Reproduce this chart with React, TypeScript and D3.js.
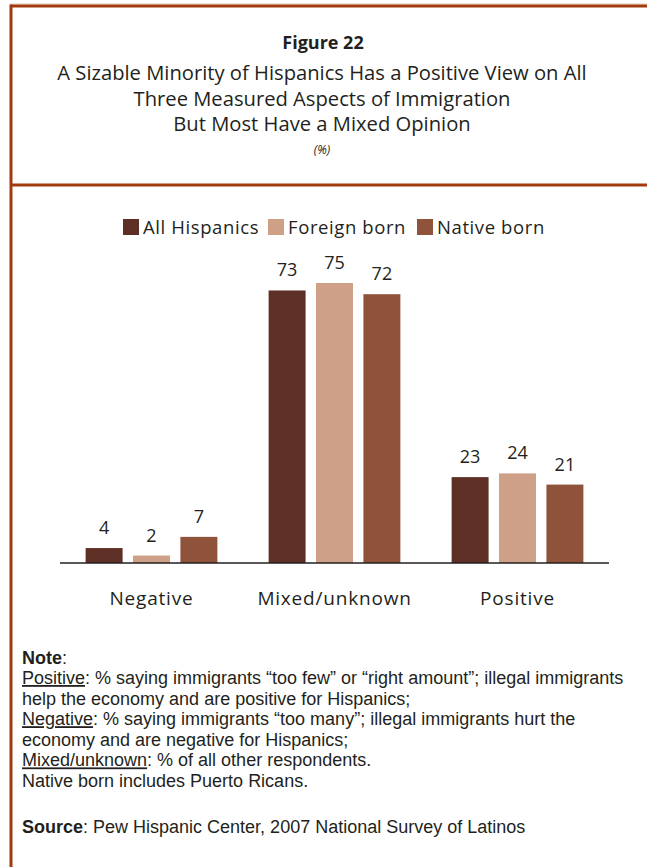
import * as d3 from "d3";
import React from "react";

// chart data
const categories = ["Negative", "Mixed/unknown", "Positive"];
const seriesNames = ["All Hispanics", "Foreign born", "Native born"];
const allHispanics = [4, 73, 23];
const foreignBorn = [2, 75, 24];
const nativeBorn = [7, 72, 21];
const seriesColors = ["#5E2F24", "#CFA088", "#8F523B"];

const titleLines = [
  "A Sizable Minority of Hispanics Has a Positive View on All",
  "Three Measured Aspects of Immigration",
  "But Most Have a Mixed Opinion",
];

const noteLines: { label?: string; text: string }[] = [
  { label: "Positive", text: ": % saying immigrants \u201Ctoo few\u201D or \u201Cright amount\u201D; illegal immigrants" },
  { text: "help the economy and are positive for Hispanics;" },
  { label: "Negative", text: ": % saying immigrants \u201Ctoo many\u201D; illegal immigrants hurt the" },
  { text: "economy and are negative for Hispanics;" },
  { label: "Mixed/unknown", text: ": % of all other respondents." },
  { text: "Native born includes Puerto Ricans." },
];

const FONT = "'Open Sans', Lato, sans-serif";
const NOTE_FONT = "'Liberation Sans', Arial, sans-serif";
const FRAME = "#A33A0E";
const INK = "#231F20";

export default function App(): React.ReactElement {
  const width = 647;
  const height = 867;

  const values = [allHispanics, foreignBorn, nativeBorn];

  const baseline = 563;
  const x0 = d3
    .scaleBand<string>()
    .domain(categories)
    .range([60, 609])
    .paddingInner(0.28)
    .paddingOuter(0.14);

  const x1 = d3
    .scaleBand<string>()
    .domain(seriesNames)
    .range([0, x0.bandwidth()])
    .paddingInner(0.22);

  const y = d3.scaleLinear().domain([0, 75]).range([baseline, 283]);

  const legendX = [123, 268, 417];

  return (
    <div style={{ position: "absolute", left: 0, top: 0 }}>
      <svg width={width} height={height} style={{ display: "block" }} fontFamily={FONT}>
        <rect width={width} height={height} fill="#fff" />

        {/* frame */}
        <line x1={10} x2={width} y1={4} y2={4} stroke="#E8C9B8" strokeWidth={1} />
        <line x1={11} x2={width} y1={6} y2={6} stroke={FRAME} strokeWidth={3} />
        <line x1={11} x2={11} y1={4.5} y2={height} stroke={FRAME} strokeWidth={3} />
        <line x1={11} x2={width} y1={185} y2={185} stroke={FRAME} strokeWidth={3} />

        {/* titles */}
        <text x={323} y={49} textAnchor="middle" fontSize={18} fontWeight={700} fill={INK}>
          Figure 22
        </text>
        {titleLines.map((t, i) => (
          <text key={t} x={322} y={80 + i * 25.5} textAnchor="middle" fontSize={20.2} fill={INK}>
            {t}
          </text>
        ))}
        <text x={322} y={154} textAnchor="middle" fontSize={12} fontStyle="italic" fill={INK}>
          (%)
        </text>

        {/* legend */}
        {seriesNames.map((s, i) => (
          <g key={s} transform={`translate(${legendX[i]},227)`}>
            <rect x={0} y={-8} width={16} height={16} fill={seriesColors[i]} />
            <text x={20} y={6.5} fontSize={18.5} letterSpacing={0.6} fill={INK}>
              {s}
            </text>
          </g>
        ))}

        {/* bars */}
        {categories.map((c, ci) => (
          <g key={c} transform={`translate(${x0(c)},0)`}>
            {seriesNames.map((s, si) => {
              const v = values[si][ci];
              const bx = x1(s) ?? 0;
              return (
                <g key={s}>
                  <rect
                    x={bx}
                    y={y(v)}
                    width={x1.bandwidth()}
                    height={baseline - y(v)}
                    fill={seriesColors[si]}
                  />
                  <text
                    x={bx + x1.bandwidth() / 2}
                    y={y(v) - 14}
                    textAnchor="middle"
                    fontSize={18}
                    fill={INK}
                  >
                    {v}
                  </text>
                </g>
              );
            })}
          </g>
        ))}

        {/* baseline */}
        <line x1={60} x2={609} y1={baseline} y2={baseline} stroke={INK} strokeWidth={1.3} />

        {/* category labels */}
        {categories.map((c) => (
          <text
            key={c}
            x={(x0(c) ?? 0) + x0.bandwidth() / 2}
            y={605}
            textAnchor="middle"
            fontSize={19}
            letterSpacing={0.8}
            fill={INK}
          >
            {c}
          </text>
        ))}

        {/* notes */}
        <g fontFamily={NOTE_FONT} fontSize={18} fill={INK}>
          <text x={22} y={664}>
            <tspan fontWeight={700}>Note</tspan>:
          </text>
          {noteLines.map((n, i) => (
            <text key={i} x={22} y={684 + i * 20.6}>
              {n.label ? <tspan textDecoration="underline">{n.label}</tspan> : null}
              {n.text}
            </text>
          ))}
          <text x={22} y={833}>
            <tspan fontWeight={700}>Source</tspan>: Pew Hispanic Center, 2007 National Survey of Latinos
          </text>
        </g>
      </svg>
    </div>
  );
}
